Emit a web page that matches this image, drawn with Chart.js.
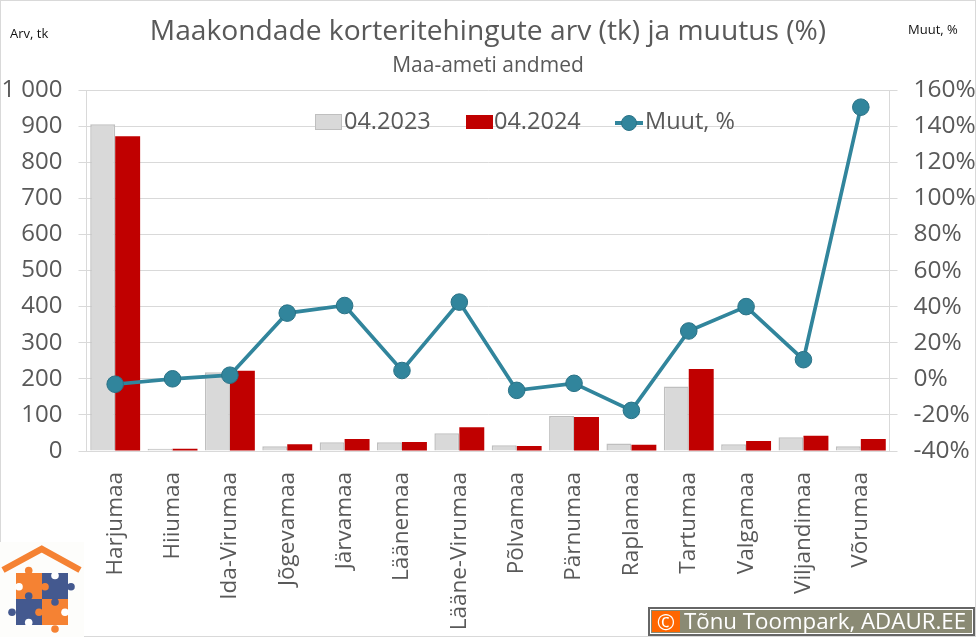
<!DOCTYPE html>
<html>
<head>
<meta charset="utf-8">
<script src="https://cdn.jsdelivr.net/npm/chart.js@4/dist/chart.umd.min.js"></script>
<style>
  html, body { margin: 0; padding: 0; background: #fff; }
  #wrap { position: relative; width: 976px; height: 637px; overflow: hidden; font-family: "Open Sans", sans-serif; }
  #frame { position: absolute; left: 0; top: 0; width: 974px; height: 635px; border: 1px solid #d9d9d9; }
  canvas { position: absolute; left: 0; top: 0; }
  .note { position: absolute; font-size: 13px; color: #111; white-space: nowrap; }
  #legend span { position: absolute; top: 103px; font-size: 23.5px; line-height: 34px; color: #595959; white-space: nowrap; }
  #legend i { position: absolute; display: block; box-sizing: border-box; }
  #logo { position: absolute; left: 0; top: 542px; }
  #credit { position: absolute; left: 648px; top: 607px; width: 327px; height: 29px; box-sizing: border-box; border: 2px solid #666; background: #8a8a74; box-shadow: inset 0 0 0 1px #fff; }
  #credit b { position: absolute; left: 2px; top: 2px; width: 28px; height: 21px; background: #ff6600; color: #fff; font-weight: 400; font-size: 22px; line-height: 21px; text-align: center; }
  #credit span { position: absolute; left: 34px; top: -4px; font-size: 22.3px; line-height: 31px; color: #fff; white-space: nowrap; }
</style>
</head>
<body>
<div id="wrap">
  <div id="frame"></div>
  <canvas id="chart" width="976" height="637"></canvas>
  <div class="note" style="left:10px;top:24px">Arv, tk</div>
  <div class="note" style="left:908px;top:20px">Muut, %</div>
  <div id="legend"></div>
  <svg id="logo" width="84" height="95" viewBox="0 0 84 95">
    <rect width="84" height="95" fill="#fdfdfb"/>
    <polyline points="3,28 41.7,7 80,28" fill="none" stroke="#f58233" stroke-width="6.5"/>
    <rect x="16" y="31" width="26" height="26" fill="#f58233"/>
    <rect x="42" y="31" width="26" height="26" fill="#44598f"/>
    <rect x="16" y="57" width="26" height="26" fill="#44598f"/>
    <rect x="42" y="57" width="26" height="26" fill="#f58233"/>
    <g fill="#f58233">
      <circle cx="28.7" cy="28.5" r="3.8"/><circle cx="45" cy="44.7" r="3.8"/>
      <circle cx="39" cy="70.3" r="3.8"/><circle cx="55" cy="87" r="3.8"/>
    </g>
    <g fill="#44598f">
      <circle cx="71" cy="44.7" r="3.8"/><circle cx="28.7" cy="54" r="3.8"/>
      <circle cx="12" cy="70.3" r="3.8"/><circle cx="55" cy="60" r="3.8"/>
    </g>
    <g fill="#fff">
      <circle cx="19" cy="44.7" r="3.8"/><circle cx="55" cy="33.5" r="3.8"/>
      <circle cx="28.7" cy="80.5" r="3.8"/><circle cx="65" cy="70.3" r="3.8"/>
    </g>
  </svg>
  <div id="credit"><b>©</b><span>Tõnu Toompark, ADAUR.EE</span></div>
</div>
<script>
const counties = ["Harjumaa", "Hiiumaa", "Ida-Virumaa", "Jõgevamaa", "Järvamaa", "Läänemaa", "Lääne-Virumaa",
    "Põlvamaa", "Pärnumaa", "Raplamaa", "Tartumaa", "Valgamaa", "Viljandimaa", "Võrumaa"];
const deals2023 = [905, 6, 218, 13, 24, 24, 49, 16, 97, 21, 179, 19, 38, 13];
const deals2024 = [872, 6, 222, 19, 33, 25, 66, 14, 94, 17, 227, 28, 42, 33];
const changePct = [-3, 0, 2, 36.4, 40.6, 4.6, 42.5, -6.4, -2.5, -17.5, 26.5, 40, 10.6, 150.5];

const GRID = "#d9d9d9";
const TEXT = "#595959";
const TEAL = "#31859c";
const FONT = "'Open Sans', sans-serif";

// ── legend ───────────────────────────────────────────────────────────────────
const legend = document.getElementById("legend");
legend.innerHTML =
    '<i style="left:315px;top:114px;width:27px;height:16px;background:#d9d9d9;border:1px solid #bfbfbf"></i>' +
    '<span style="left:344px">04.2023</span>' +
    '<i style="left:466px;top:115px;width:27px;height:14px;background:#c00000"></i>' +
    '<span style="left:494px">04.2024</span>' +
    '<i style="left:615px;top:121px;width:28px;height:3.5px;background:' + TEAL + '"></i>' +
    '<i style="left:621px;top:115px;width:16px;height:16px;border-radius:50%;background:' + TEAL + ';border:1px solid #2a7286"></i>' +
    '<span style="left:645px">Muut, %</span>';

// ── chart ────────────────────────────────────────────────────────────────────
new Chart(document.getElementById("chart").getContext("2d"), {
    type: "bar",
    data: {
        labels: counties,
        datasets: [
            {
                label: "04.2023", data: deals2023, order: 2,
                backgroundColor: "#d9d9d9", borderColor: "#bfbfbf", borderWidth: 1.5,
                categoryPercentage: 0.87, barPercentage: 1,
            },
            {
                label: "04.2024", data: deals2024, order: 2,
                backgroundColor: "#c00000",
                categoryPercentage: 0.87, barPercentage: 1,
            },
            {
                type: "line", label: "Muut, %", data: changePct, order: 1, yAxisID: "y1",
                borderColor: TEAL, borderWidth: 3.7, tension: 0,
                pointRadius: 8.3, pointBackgroundColor: TEAL, pointBorderColor: "#2a7286", pointBorderWidth: 1,
            },
        ],
    },
    options: {
        responsive: false,
        animation: false,
        layout: { padding: 0 },
        plugins: {
            legend: { display: false },
            tooltip: { enabled: false },
            title: {
                display: true,
                text: "Maakondade korteritehingute arv (tk) ja muutus (%)",
                color: TEXT,
                font: { family: FONT, size: 28.2, weight: "400" },
                padding: { top: 15, bottom: 5 },
            },
            subtitle: {
                display: true,
                text: "Maa-ameti andmed",
                color: TEXT,
                font: { family: FONT, size: 21, weight: "400" },
                padding: { top: 0, bottom: 11 },
            },
        },
        scales: {
            x: {
                grid: { display: false },
                border: { color: GRID },
                ticks: {
                    color: TEXT, font: { family: FONT, size: 22.5 },
                    minRotation: 90, maxRotation: 90, autoSkip: false, padding: 13,
                },
                afterFit: s => { s.height = 186; },
            },
            y: {
                min: 0, max: 1000,
                grid: { color: GRID, tickLength: 8 },
                border: { color: GRID },
                ticks: {
                    stepSize: 100, color: TEXT, font: { family: FONT, size: 24 }, padding: 16,
                    callback: v => String(v).replace(/\B(?=(\d{3})+$)/g, " "),
                },
                afterFit: s => { s.width = 86.5; },
            },
            y1: {
                position: "right",
                min: -40, max: 160,
                grid: { drawOnChartArea: false, color: GRID, tickLength: 8 },
                border: { color: GRID },
                ticks: {
                    stepSize: 20, color: TEXT, font: { family: FONT, size: 24.5 }, padding: 16,
                    callback: v => v + "%",
                },
                afterFit: s => { s.width = 86.5; },
            },
        },
    },
});
</script>
</body>
</html>
